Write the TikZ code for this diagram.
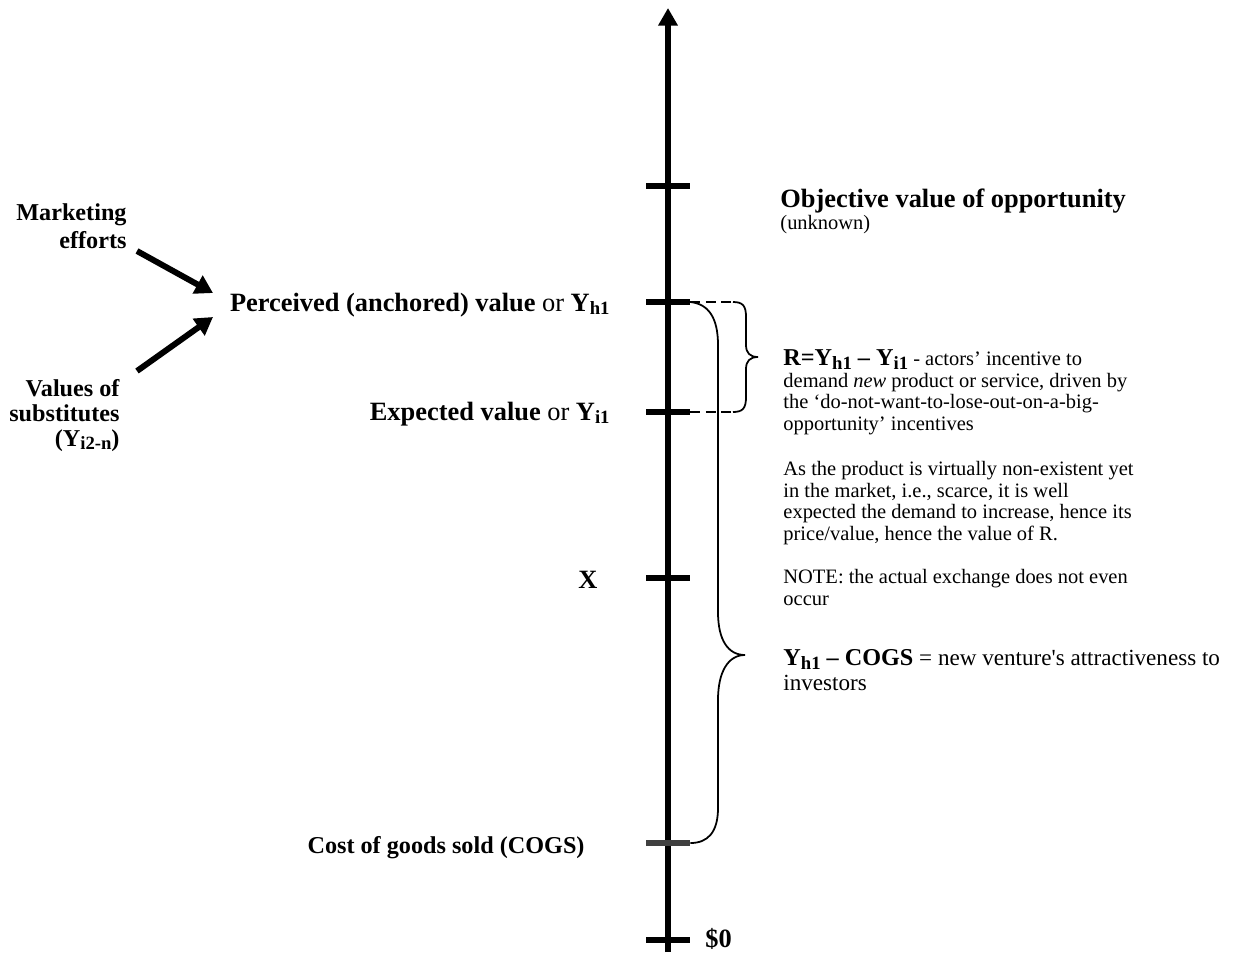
\documentclass[tikz,border=0pt]{standalone}
\usepackage{fontspec}
\setmainfont{Liberation Serif}
\usetikzlibrary{arrows.meta}
\newcommand{\lowsub}[1]{\raisebox{-1.6pt}{\fontsize{8.5}{8.5}\selectfont\bfseries #1}}

\begin{document}
\begin{tikzpicture}[x=0.4545pt,y=-0.4545pt,
	axisline/.style={line width=2.7pt,-{Triangle[length=8pt,width=8.5pt]}},
	tickmark/.style={fill=black,inner sep=0pt,minimum width=20pt,minimum height=2.6pt},
	push/.style={line width=2.7pt,-{Triangle[length=8pt,width=9pt]}},
	bigl/.style={font=\fontsize{12}{12.3}\selectfont\bfseries,inner sep=0pt,align=right},
	sidel/.style={font=\fontsize{11}{12.3}\selectfont\bfseries,inner sep=0pt,align=right,anchor=base east},
	note/.style={font=\fontsize{9.3}{9.75}\selectfont,inner sep=0pt,align=left,anchor=base west},
	brace/.style={line width=0.8pt},
	guide/.style={line width=0.8pt,dash pattern=on 4.5pt off 2.5pt}]
		\fill[white] (0,0) rectangle (1239,952);
		\useasboundingbox (0,0) rectangle (1239,952);
		% value axis
		\coordinate (base) at (668,952);
		\coordinate (top) at (668,8);
		\draw[axisline] (base) -- (top);
		\node[tickmark] (objT) at (668,186) {};
		\node[tickmark] (perT) at (668,302) {};
		\node[tickmark] (expT) at (668,412) {};
		\node[tickmark] (xT) at (668,578) {};
		\node[tickmark, fill=black!75] (cogsT) at (668,843) {};
		\node[tickmark] (zeroT) at (668,940) {};
		% labels left of the axis
		\node[sidel] (mkt) at (127,248) {Marketing\\efforts};
		\node[sidel, font=\fontsize{11}{11.3}\selectfont\bfseries] (subs) at (120,446) {Values of\\substitutes\\(Y\lowsub{i2-n})};
		\node[bigl, anchor=base east] (perL) at (610,311) {Perceived (anchored) value {\mdseries or} Y\lowsub{h1}};
		\node[bigl, anchor=base east] (expL) at (610,420) {Expected value {\mdseries or} Y\lowsub{i1}};
		\node[bigl, anchor=base east] (xL) at (598,588) {X};
		\node[sidel] (cogsL) at (585,853) {Cost of goods sold (COGS)};
		\node[bigl, anchor=base west] (zeroL) at (705,947) {\$0};
		% what pushes the perceived value
		\coordinate (mktS) at (137,251);
		\coordinate (mktE) at (213,293);
		\coordinate (subsS) at (137,371);
		\coordinate (subsE) at (213,317);
		\draw[push] (mktS) -- (mktE);
		\draw[push] (subsS) -- (subsE);
		% small brace between Yh1 and Yi1
		\coordinate (rTop) at (733,302);
		\coordinate (rBot) at (733,412);
		\draw[guide] (perT.east) -- (rTop);
		\draw[guide] (expT.east) -- (rBot);
		\draw[brace] (rTop) .. controls (743,302) and (746,306) .. (746,317) -- (746,345)
			.. controls (746,353) and (750,357) .. (758,357)
			.. controls (750,357) and (746,361) .. (746,369) -- (746,397)
			.. controls (746,408) and (743,412) .. (rBot);
		% large brace between Yh1 and COGS
		\draw[brace] (perT.east) .. controls (708,304) and (718,317) .. (718,345) -- (718,612)
			.. controls (718,640) and (728,655) .. (745,655)
			.. controls (728,655) and (718,672) .. (718,700) -- (718,808)
			.. controls (718,832) and (708,843) .. (cogsT.east);
		% texts right of the axis
		\node[note] (obj) at (780,229) {{\fontsize{12}{12}\selectfont\bfseries Objective value of opportunity}\\(unknown)};
		\node[note] (rtxt) at (783,430) {{\fontsize{11}{11}\selectfont\bfseries R=Y\lowsub{h1} -- Y\lowsub{i1}} - actors’ incentive to\\demand \textit{new} product or service, driven by\\the ‘do-not-want-to-lose-out-on-a-big-\\opportunity’ incentives};
		\node[note] (scarce) at (783,540) {As the product is virtually non-existent yet\\in the market, i.e., scarce, it is well\\expected the demand to increase, hence its\\price/value, hence the value of R.};
		\node[note] (caveat) at (783,605) {NOTE: the actual exchange does not even\\occur};
		\node[note, font=\fontsize{10.5}{11}\selectfont] (invest) at (783,690) {{\fontsize{11}{11}\selectfont\bfseries Y\lowsub{h1} -- COGS} = new venture\textquotesingle s attractiveness to\\investors};
	\end{tikzpicture}
\end{document}
